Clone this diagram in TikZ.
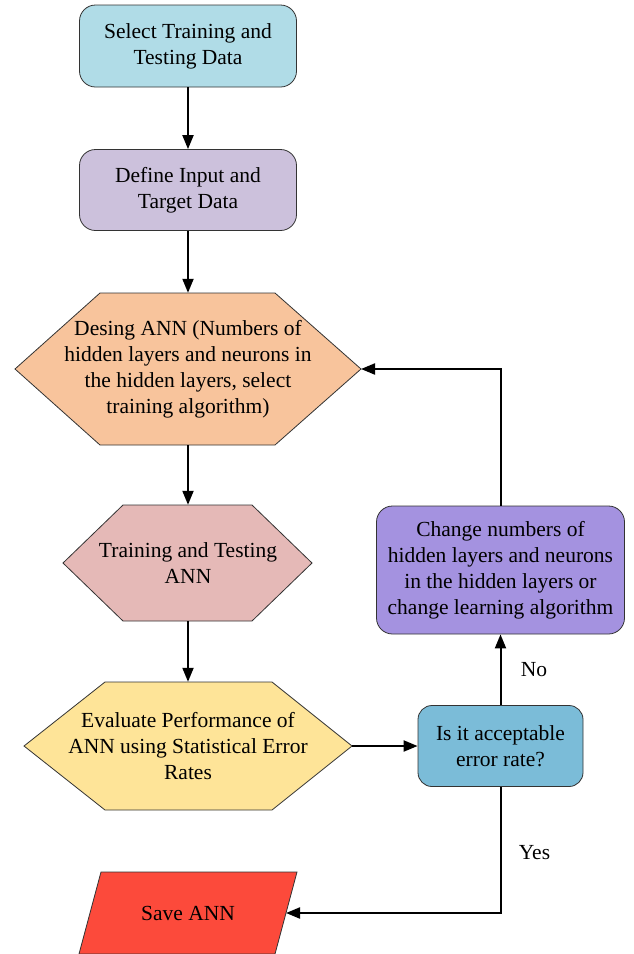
\documentclass[tikz,border=0pt]{standalone}
\usepackage{fontspec}
\setmainfont{Liberation Serif}
\usetikzlibrary{shapes, arrows.meta, positioning}
\definecolor{selectblue}{RGB}{176,220,231}
\definecolor{definelilac}{RGB}{204,193,220}
\definecolor{designorange}{RGB}{248,196,156}
\definecolor{trainpink}{RGB}{229,185,183}
\definecolor{evalyellow}{RGB}{254,228,152}
\definecolor{checkblue}{RGB}{123,188,216}
\definecolor{changeviolet}{RGB}{164,146,224}
\definecolor{savered}{RGB}{252,74,59}
\tikzset{
	box/.style={rectangle, rounded corners=16pt, draw=black!80, line width=0.8pt, align=center, inner sep=0pt},
	outline/.style={draw=black!80, line width=0.8pt, line join=miter},
	textbox/.style={rectangle, align=center, inner sep=0pt},
	flow/.style={-{Triangle[length=14pt,width=11pt]}, line width=2pt},
}
\begin{document}
\begin{tikzpicture}[x=1pt, y=-1pt, font=\fontsize{21.5}{26}\selectfont]
	\useasboundingbox (0,0) rectangle (633,954);
	% hexagons and parallelogram
	\draw[outline, fill=designorange] (100,293) -- (275,293) -- (361,369) -- (275,445) -- (100,445) -- (15,369) -- cycle;
	\draw[outline, fill=trainpink] (123,505) -- (252,505) -- (312,563) -- (252,621) -- (123,621) -- (63,563) -- cycle;
	\draw[outline, fill=evalyellow] (105,682) -- (272,682) -- (352,746) -- (272,810) -- (105,810) -- (24,746) -- cycle;
	\draw[outline, fill=savered] (101,872) -- (297,872) -- (275,954) -- (79,954) -- cycle;

	\node[box, fill=selectblue, minimum width=217pt, minimum height=82pt] (select) at (188,46) {Select Training and\\Testing Data};
	\node[box, fill=definelilac, minimum width=217pt, minimum height=81pt] (define) at (188,190) {Define Input and\\Target Data};
	\node[textbox, minimum height=152pt] (design) at (188,369) {Desing ANN (Numbers of\\hidden layers and neurons in\\the hidden layers, select\\training algorithm)};
	\coordinate (design tip) at (361,369);
	\node[textbox, minimum height=116pt] (train) at (188,563) {Training and Testing\\ANN};
	\node[textbox, minimum height=128pt] (evaluate) at (188,746) {Evaluate Performance of\\ANN using Statistical Error\\Rates};
	\coordinate (evaluate tip) at (352,746);
	\node[box, fill=checkblue, rounded corners=14pt, minimum width=165pt, minimum height=81pt] (check) at (500.5,746) {Is it acceptable\\error rate?};
	\node[box, fill=changeviolet, minimum width=248pt, minimum height=128pt] (change) at (500.5,570) {Change numbers of\\hidden layers and neurons\\in the hidden layers or\\change learning algorithm};
	\node[textbox, minimum height=82pt] (save) at (188,913) {Save ANN};
	\coordinate (save tip) at (286,913);

	\draw[flow] (select) -- (define);
	\draw[flow] (define) -- (design);
	\draw[flow] (design) -- (train);
	\draw[flow] (train) -- (evaluate);
	\draw[flow] (evaluate tip) -- (check);
	\draw[flow] (check) -- node[right, xshift=16pt] {No} (change);
	\draw[flow] (change.north) |- (design tip);
	\draw[flow] (check.south) |- node[pos=0.26, right, xshift=14pt] {Yes} (save tip);
\end{tikzpicture}
\end{document}
